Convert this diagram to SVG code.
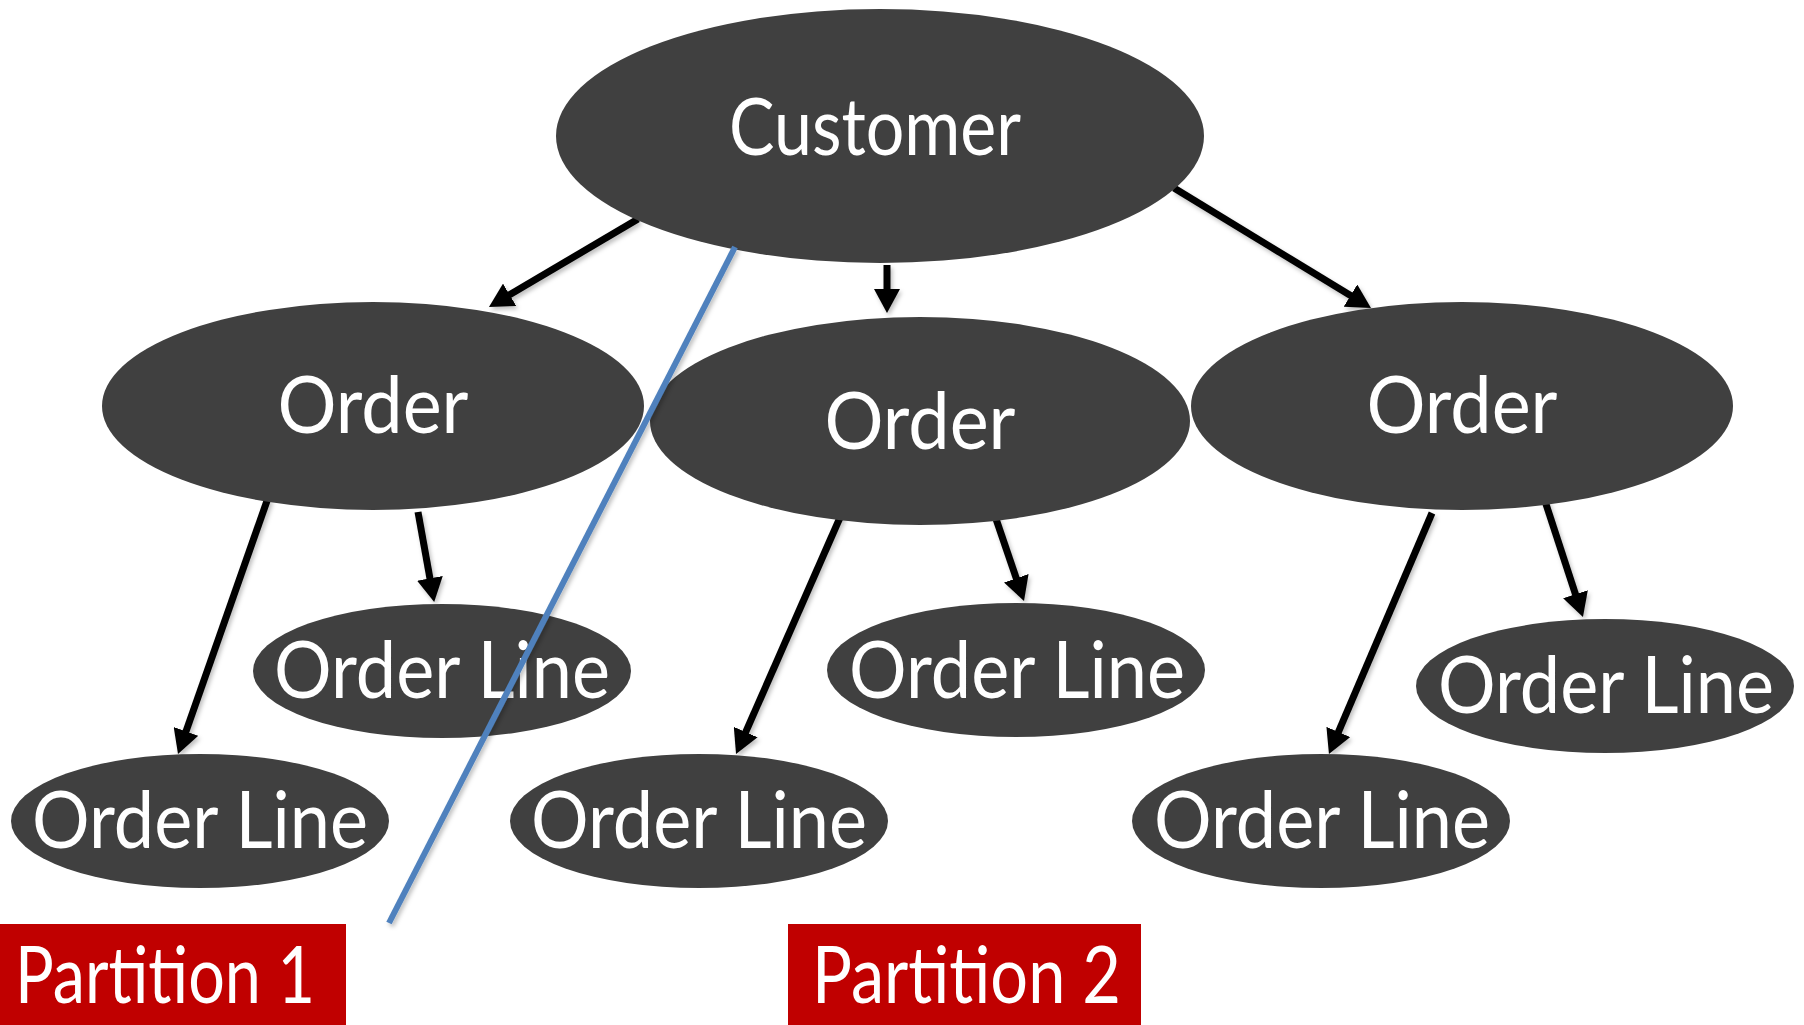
<svg xmlns="http://www.w3.org/2000/svg" width="1804" height="1025" viewBox="0 0 1804 1025">
  <style>
    .node { fill: #404040; }
    .label { fill: #ffffff; font-family: Lato, "Liberation Sans", sans-serif; font-size: 79px; text-anchor: middle; }
    .edge { stroke: #000000; stroke-width: 7; fill: none; marker-end: url(#arrow); }
    .cut { stroke: #4F81BD; stroke-width: 6; fill: none; }
    .part { fill: #C00000; }
    .plabel { fill: #ffffff; font-family: Lato, "Liberation Sans", sans-serif; font-size: 80px; }
  </style>
  <defs>
    <marker id="arrow" markerUnits="userSpaceOnUse" markerWidth="24" markerHeight="26" refX="2" refY="13" orient="auto">
      <path d="M0,0 L24,13 L0,26 z" fill="#000000"/>
    </marker>
    <filter id="soft-shadow" x="-10%" y="-10%" width="120%" height="120%">
      <feDropShadow dx="2" dy="3" stdDeviation="2" flood-color="#000000" flood-opacity="0.25"/>
    </filter>
  </defs>
  <rect width="1804" height="1025" fill="#ffffff"/>

  <!-- connectors -->
  <g id="connectors" filter="url(#soft-shadow)">
    <line class="edge" x1="638" y1="219" x2="507.9" y2="295.8"/>
    <line class="edge" x1="887" y1="265" x2="887" y2="291"/>
    <line class="edge" x1="1174" y1="188" x2="1352.2" y2="296.6"/>
    <line class="edge" x1="268" y1="498" x2="185.3" y2="733.3"/>
    <line class="edge" x1="418" y1="512" x2="430.3" y2="580.3"/>
    <line class="edge" x1="842" y1="513" x2="744.9" y2="733.9"/>
    <line class="edge" x1="994" y1="513" x2="1016.9" y2="580.2"/>
    <line class="edge" x1="1432" y1="513" x2="1337.6" y2="733.8"/>
    <line class="edge" x1="1544" y1="498" x2="1576.1" y2="596.1"/>
  </g>

  <g id="customer">
    <ellipse class="node" cx="880" cy="136" rx="324" ry="127"/>
    <text class="label" x="875" y="155" textLength="292" lengthAdjust="spacingAndGlyphs">Customer</text>
  </g>

  <g id="order-1">
    <ellipse class="node" cx="373" cy="406" rx="271" ry="104"/>
    <text class="label" x="373" y="433" textLength="191" lengthAdjust="spacingAndGlyphs">Order</text>
  </g>
  <g id="order-2">
    <ellipse class="node" cx="920" cy="421" rx="270" ry="104"/>
    <text class="label" x="920" y="449" textLength="191" lengthAdjust="spacingAndGlyphs">Order</text>
  </g>
  <g id="order-3">
    <ellipse class="node" cx="1462" cy="406" rx="271" ry="104"/>
    <text class="label" x="1462" y="433" textLength="191" lengthAdjust="spacingAndGlyphs">Order</text>
  </g>

  <g id="order-line-1a">
    <ellipse class="node" cx="442" cy="671" rx="189" ry="67"/>
    <text class="label" x="442" y="698" textLength="336" lengthAdjust="spacingAndGlyphs">Order Line</text>
  </g>
  <g id="order-line-1b">
    <ellipse class="node" cx="200" cy="821" rx="189" ry="67"/>
    <text class="label" x="200" y="848" textLength="336" lengthAdjust="spacingAndGlyphs">Order Line</text>
  </g>
  <g id="order-line-2a">
    <ellipse class="node" cx="1016" cy="670" rx="189" ry="67"/>
    <text class="label" x="1017" y="698" textLength="336" lengthAdjust="spacingAndGlyphs">Order Line</text>
  </g>
  <g id="order-line-2b">
    <ellipse class="node" cx="699" cy="821" rx="189" ry="67"/>
    <text class="label" x="699" y="848" textLength="336" lengthAdjust="spacingAndGlyphs">Order Line</text>
  </g>
  <g id="order-line-3a">
    <ellipse class="node" cx="1605" cy="686" rx="189" ry="67"/>
    <text class="label" x="1606" y="713" textLength="336" lengthAdjust="spacingAndGlyphs">Order Line</text>
  </g>
  <g id="order-line-3b">
    <ellipse class="node" cx="1321" cy="821" rx="189" ry="67"/>
    <text class="label" x="1322" y="848" textLength="336" lengthAdjust="spacingAndGlyphs">Order Line</text>
  </g>

  <!-- partition boundary -->
  <line class="cut" x1="735" y1="247" x2="389" y2="923" filter="url(#soft-shadow)"/>

  <g id="partition-1">
    <rect class="part" x="0" y="924" width="346" height="101"/>
    <text class="plabel" x="15" y="1003" textLength="300" lengthAdjust="spacingAndGlyphs">Partition 1</text>
  </g>
  <g id="partition-2">
    <rect class="part" x="788" y="924" width="353" height="101"/>
    <text class="plabel" x="812" y="1003" textLength="309" lengthAdjust="spacingAndGlyphs">Partition 2</text>
  </g>
</svg>
